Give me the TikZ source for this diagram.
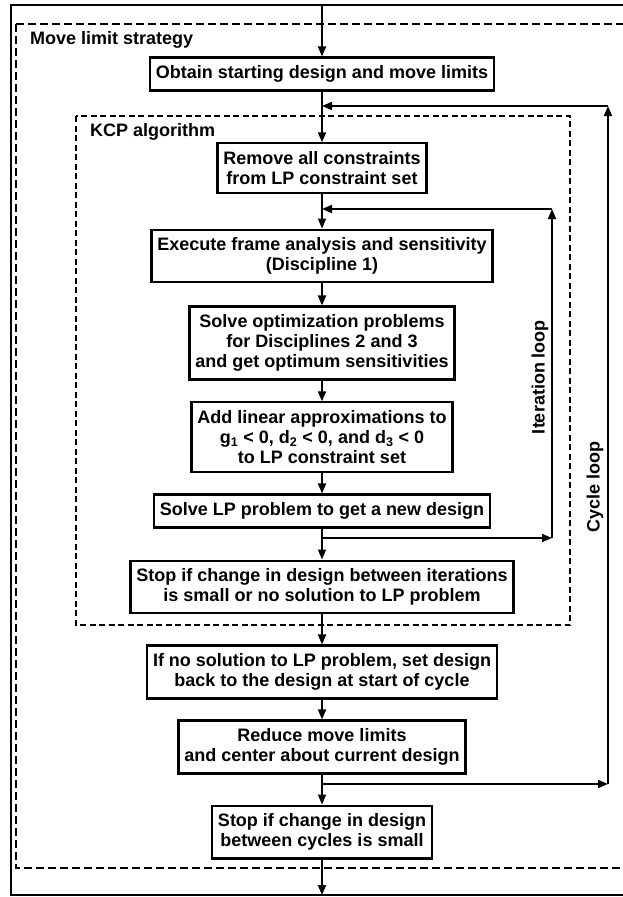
\documentclass[tikz,border=0pt]{standalone}
\usepackage{fontspec}
\setmainfont{Liberation Sans}
\usetikzlibrary{arrows.meta}
\tikzset{
  stepbox/.style={draw, line width=2.2pt, align=center, inner xsep=6pt,
    inner ysep=8pt, font=\fontsize{18}{20}\selectfont\bfseries},
  flow/.style={line width=1.8pt, -{Triangle[length=10pt,width=8pt]}},
  looplabel/.style={font=\fontsize{18}{20}\selectfont\bfseries, rotate=90, inner sep=0pt},
  framelabel/.style={font=\fontsize{18}{20}\selectfont\bfseries, anchor=west, inner sep=0pt},
}
\begin{document}
\begin{tikzpicture}[x=1pt,y=-1pt]
  \useasboundingbox (0,0) rectangle (623,897);
  \clip (0,0) rectangle (623,897);
  % outer frame and the two dashed regions
  \draw[line width=1.5pt] (11,5) rectangle (640,895);
  \draw[line width=2pt, dash pattern=on 8pt off 4pt] (16,24) rectangle (640,868);
  \draw[line width=2pt, dash pattern=on 6pt off 3.5pt] (76,116) rectangle (570,625);
  \node[framelabel] (mls) at (30,40) {Move limit strategy};
  \node[framelabel] (kcp) at (90,132) {KCP algorithm};

  % boxes of the flow
  \node[stepbox] (obtain) at (322,74) {Obtain starting design and move limits};
  \node[stepbox] (remove) at (322,168) {Remove all constraints\\from LP constraint set};
  \node[stepbox] (execute) at (322,256) {Execute frame analysis and sensitivity\\(Discipline 1)};
  \node[stepbox] (solveopt) at (322,343) {Solve optimization problems\\for Disciplines 2 and 3\\and get optimum sensitivities};
  \node[stepbox] (addlin) at (322,437) {Add linear approximations to\\g\textsubscript{1} < 0, d\textsubscript{2} < 0, and d\textsubscript{3} < 0\\to LP constraint set};
  \node[stepbox] (solvelp) at (322,511) {Solve LP problem to get a new design};
  \node[stepbox] (stopit) at (322,587) {Stop if change in design between iterations\\is small or no solution to LP problem};
  \node[stepbox] (nosol) at (322,672) {If no solution to LP problem, set design\\back to the design at start of cycle};
  \node[stepbox] (reduce) at (322,747) {Reduce move limits\\and center about current design};
  \node[stepbox] (stopcyc) at (322,832) {Stop if change in design\\between cycles is small};

  % main line
  \coordinate (entry) at (322,5);
  \coordinate (exit) at (322,895);
  \draw[flow] (entry) -- (obtain);
  \draw[flow] (obtain) -- (remove);
  \draw[flow] (remove) -- (execute);
  \draw[flow] (execute) -- (solveopt);
  \draw[flow] (solveopt) -- (addlin);
  \draw[flow] (addlin) -- (solvelp);
  \draw[flow] (solvelp) -- (stopit);
  \draw[flow] (stopit) -- (nosol);
  \draw[flow] (nosol) -- (reduce);
  \draw[flow] (reduce) -- (stopcyc);
  \draw[flow] (stopcyc) -- (exit);

  % iteration loop
  \coordinate (itsplit) at (322,538);
  \coordinate (itright) at (552,538);
  \coordinate (ittop) at (552,209);
  \coordinate (itjoin) at (322,209);
  \draw[flow] (itsplit) -- (itright);
  \draw[flow] (itright) -- (ittop);
  \draw[flow] (ittop) -- (itjoin);
  \node[looplabel] (itlabel) at (540,377) {Iteration loop};

  % cycle loop
  \coordinate (cysplit) at (322,784);
  \coordinate (cyright) at (608,784);
  \coordinate (cytop) at (608,106);
  \coordinate (cyjoin) at (322,106);
  \draw[flow] (cysplit) -- (cyright);
  \draw[flow] (cyright) -- (cytop);
  \draw[flow] (cytop) -- (cyjoin);
  \node[looplabel] (cylabel) at (595,487) {Cycle loop};
\end{tikzpicture}
\end{document}
